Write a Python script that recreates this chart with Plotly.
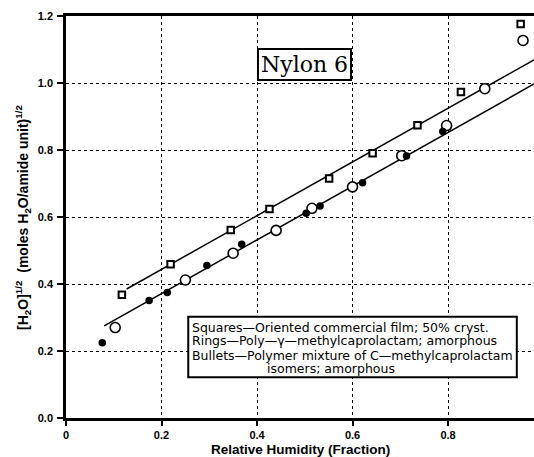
import plotly.graph_objects as go

# Data
squares_x = [0.117, 0.219, 0.345, 0.426, 0.551, 0.642, 0.736, 0.827, 0.952]
squares_y = [0.368, 0.459, 0.561, 0.624, 0.715, 0.790, 0.874, 0.973, 1.176]
rings_x = [0.103, 0.250, 0.350, 0.440, 0.515, 0.600, 0.703, 0.797, 0.877, 0.957]
rings_y = [0.270, 0.412, 0.492, 0.560, 0.626, 0.690, 0.783, 0.873, 0.983, 1.127]
bullets_x = [0.076, 0.174, 0.212, 0.295, 0.368, 0.503, 0.532, 0.621, 0.713, 0.789]
bullets_y = [0.225, 0.351, 0.375, 0.455, 0.519, 0.611, 0.633, 0.702, 0.782, 0.855]

upper_line_x = [0.127, 0.98]
upper_line_y = [0.385, 1.069]
lower_line_x = [0.080, 0.98]
lower_line_y = [0.275, 0.997]

x_ticks = [0, 0.2, 0.4, 0.6, 0.8]
x_ticklabels = ["0", "0.2", "0.4", "0.6", "0.8"]
y_ticks = [0, 0.2, 0.4, 0.6, 0.8, 1.0, 1.2]
y_ticklabels = ["0.0", "0.2", "0.4", "0.6", "0.8", "1.0", "1.2"]

legend_lines = [
    "Squares—Oriented commercial film; 50% cryst.",
    "Rings—Poly—γ—methylcaprolactam; amorphous",
    "Bullets—Polymer mixture of C—methylcaprolactam",
    "isomers; amorphous",
]

fig = go.Figure()
fig.add_trace(go.Scatter(x=upper_line_x, y=upper_line_y, mode="lines",
                         line=dict(color="black", width=1.5), showlegend=False))
fig.add_trace(go.Scatter(x=lower_line_x, y=lower_line_y, mode="lines",
                         line=dict(color="black", width=1.5), showlegend=False))
fig.add_trace(go.Scatter(x=squares_x, y=squares_y, mode="markers",
                         marker=dict(symbol="square", size=6.5, color="white",
                                     line=dict(color="black", width=2)),
                         showlegend=False))
fig.add_trace(go.Scatter(x=rings_x, y=rings_y, mode="markers",
                         marker=dict(symbol="circle", size=10, color="white",
                                     line=dict(color="black", width=1.6)),
                         showlegend=False))
fig.add_trace(go.Scatter(x=bullets_x, y=bullets_y, mode="markers",
                         marker=dict(symbol="circle", size=7.5, color="black",
                                     line=dict(color="black", width=0)),
                         showlegend=False))

tickfont = dict(family="Liberation Sans", size=11, color="black", weight="bold")
fig.update_xaxes(range=[0, 0.98], tickvals=x_ticks, ticktext=x_ticklabels,
                 showgrid=True, gridcolor="black", griddash="dot", gridwidth=1,
                 zeroline=False, showline=True, linecolor="black", linewidth=2.5,
                 mirror=True, ticks="outside", ticklen=5, tickwidth=1.5,
                 tickcolor="black", tickfont=tickfont)
fig.update_yaxes(range=[0, 1.2], tickvals=y_ticks, ticktext=y_ticklabels,
                 showgrid=True, gridcolor="black", griddash="dot", gridwidth=1,
                 zeroline=False, showline=True, linecolor="black", linewidth=2.5,
                 ticks="outside", ticklen=6, tickwidth=1.5, tickcolor="black",
                 tickfont=tickfont, ticklabelstandoff=2)

annotations = []
annotations.append(dict(
    text="Relative Humidity (Fraction)", xref="paper", yref="paper",
    x=0.5, y=-0.079, xanchor="center", yanchor="middle", showarrow=False,
    font=dict(family="Liberation Sans", size=13.5, color="black", weight="bold")))
annotations.append(dict(
    text="[H<sub>2</sub>O]<sup>1/2</sup>  (moles H<sub>2</sub>O/amide unit)<sup>1/2</sup>",
    xref="paper", yref="paper", x=-0.092, y=0.5, xanchor="center", yanchor="middle",
    textangle=-90, showarrow=False,
    font=dict(family="Liberation Sans", size=14, color="black", weight="bold")))
annotations.append(dict(
    text="Nylon 6", xref="x", yref="y", x=0.4995, y=1.055,
    xanchor="center", yanchor="middle", showarrow=False,
    bgcolor="white", bordercolor="black", borderwidth=2, borderpad=2,
    font=dict(family="DejaVu Serif", size=22, color="black")))

legend_font = dict(family="DejaVu Sans", size=12.5, color="black")
legend_x = [0.260, 0.260, 0.260, 0.416]
legend_y = [0.270, 0.230, 0.188, 0.148]
for t, lx, ly in zip(legend_lines, legend_x, legend_y):
    annotations.append(dict(text=t, xref="x", yref="y", x=lx, y=ly,
                            xanchor="left", yanchor="middle", showarrow=False,
                            font=legend_font))

fig.add_shape(type="rect", xref="x", yref="y", x0=0.256, x1=0.944, y0=0.122, y1=0.302,
              line=dict(color="black", width=2), fillcolor="white", layer="above")

fig.update_layout(
    width=534, height=457,
    margin=dict(l=66, r=0, t=16, b=39),
    plot_bgcolor="white", paper_bgcolor="white",
    annotations=annotations,
    showlegend=False,
)

fig.write_html("out.html")
